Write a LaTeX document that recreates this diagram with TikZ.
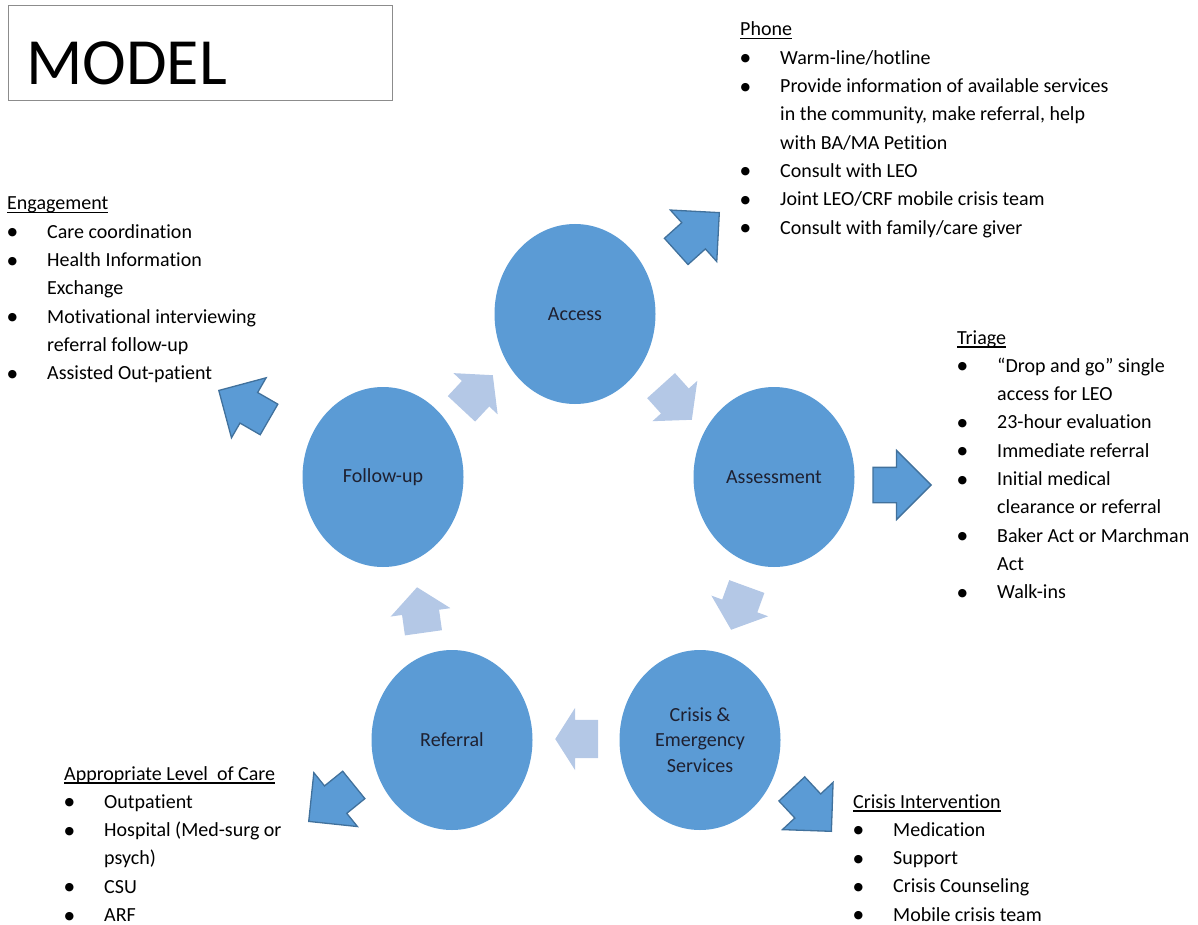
\documentclass[tikz,border=0pt]{standalone}
\usepackage{fontspec}
\setmainfont{Carlito}[Ligatures={NoCommon}]
\newfontfamily\dejavu{DejaVu Sans}
\usetikzlibrary{shapes.geometric,shapes.arrows}
\definecolor{circblue}{HTML}{5B9BD5}
\definecolor{darkedge}{HTML}{41719C}
\definecolor{lightblue}{HTML}{B4C8E6}
\definecolor{circtext}{HTML}{1E2030}
\definecolor{boxgray}{HTML}{8C8C8C}
\newcommand{\blt}{\makebox[40pt][l]{\hspace{0.5pt}\raisebox{2.5pt}{\fontsize{11}{11}\selectfont\dejavu ●}}}
\newcommand{\hdr}[1]{\setbox0=\hbox{#1}\rlap{\rule[-3.5pt]{\wd0}{1.1pt}}\box0}
\tikzset{
  stage/.style={ellipse, fill=circblue, minimum width=161pt, minimum height=180pt, inner sep=0pt,
    font=\fontsize{20}{25.5}\selectfont, text=circtext, align=center},
  outarrow/.style={single arrow, fill=circblue, draw=darkedge, line width=1.3pt,
    minimum height=58pt, inner xsep=0pt, inner ysep=17pt, single arrow head extend=17pt,
    single arrow tip angle=90, anchor=tip},
  cyclearrow/.style={single arrow, fill=lightblue, draw=none,
    minimum height=46pt, inner xsep=0pt, inner ysep=18.5pt, single arrow head extend=11.5pt,
    single arrow tip angle=100, anchor=tip},
  listblk/.style={anchor=base west, inner sep=0pt, font=\fontsize{20}{28.3}\selectfont, text=black},
}
\begin{document}
\begin{tikzpicture}[x=1pt, y=-1pt]
\useasboundingbox (0,0) rectangle (1198,925);

% title
\node[draw=boxgray, line width=1.1pt, minimum width=384pt, minimum height=95pt, anchor=north west, inner sep=0pt] (modelbox) at (8,5) {};
\node[anchor=base west, inner sep=0pt, font=\fontsize{66}{66}\selectfont] (modeltxt) at (26,85) {MODEL};

% stages
\node[stage] (access) at (575,314) {Access};
\node[stage] (assess) at (774,477) {Assessment};
\node[stage] (crisis) at (700,740) {Crisis \&\\Emergency\\Services};
\node[stage] (referral) at (452,740) {Referral};
\node[stage] (follow) at (383,477) {Follow-up};

% cycle arrows
\node[cyclearrow, rotate=-48] (c1) at (692,420) {};
\node[cyclearrow, rotate=-110] (c2) at (731,630) {};
\node[cyclearrow, rotate=180, minimum height=43pt, inner ysep=19pt, single arrow head extend=12pt, single arrow tip angle=115] (c3) at (555,739) {};
\node[cyclearrow, rotate=98] (c4) at (417,587) {};
\node[cyclearrow, rotate=47] (c5) at (493,375) {};

% outward arrows
\node[outarrow, rotate=42] (o1) at (720,212) {};
\node[outarrow, rotate=0] (o2) at (932,485) {};
\node[outarrow, rotate=-47] (o3) at (832,832) {};
\node[outarrow, rotate=-141] (o4) at (308,822) {};
\node[outarrow, rotate=150] (o5) at (218,390) {};

% lists
\node[listblk] (phone) at (740,36) {\begin{tabular}[t]{@{}l@{}l@{}}
\multicolumn{2}{@{}l@{}}{\hdr{Phone}}\\
\blt & Warm-line/hotline\\
\blt & Provide information of available services\\
 & in the community, make referral, help\\
 & with BA/MA Petition\\
\blt & Consult with LEO\\
\blt & Joint LEO/CRF mobile crisis team\\
\blt & Consult with family/care giver
\end{tabular}};

\node[listblk] (triage) at (957,344) {\begin{tabular}[t]{@{}l@{}l@{}}
\multicolumn{2}{@{}l@{}}{\hdr{Triage}}\\
\blt & “Drop and go” single\\
 & access for LEO\\
\blt & 23-hour evaluation\\
\blt & Immediate referral\\
\blt & Initial medical\\
 & clearance or referral\\
\blt & Baker Act or Marchman\\
 & Act\\
\blt & Walk-ins
\end{tabular}};

\node[listblk] (engage) at (7,210) {\begin{tabular}[t]{@{}l@{}l@{}}
\multicolumn{2}{@{}l@{}}{\hdr{Engagement}}\\
\blt & Care coordination\\
\blt & Health Information\\
 & Exchange\\
\blt & Motivational interviewing\\
 & referral follow-up\\
\blt & Assisted Out-patient
\end{tabular}};

\node[listblk] (approp) at (64,780) {\begin{tabular}[t]{@{}l@{}l@{}}
\multicolumn{2}{@{}l@{}}{\hdr{Appropriate Level\ \ of Care}}\\
\blt & Outpatient\\
\blt & Hospital (Med-surg or\\
 & psych)\\
\blt & CSU\\
\blt & ARF
\end{tabular}};

\node[listblk] (crisint) at (853,808) {\begin{tabular}[t]{@{}l@{}l@{}}
\multicolumn{2}{@{}l@{}}{\hdr{Crisis Intervention}}\\
\blt & Medication\\
\blt & Support\\
\blt & Crisis Counseling\\
\blt & Mobile crisis team
\end{tabular}};

\end{tikzpicture}
\end{document}
